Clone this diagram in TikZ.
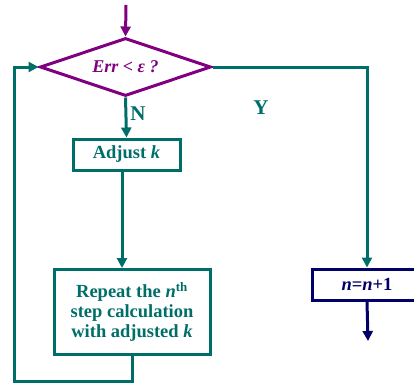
\documentclass[tikz,border=0pt]{standalone}
\usepackage{fontspec}
\setmainfont{Liberation Serif}
\usepackage{tikz}
\usetikzlibrary{shapes.geometric, arrows.meta}
\definecolor{sea}{RGB}{0, 110, 104}
\definecolor{plum}{RGB}{128, 0, 128}
\definecolor{ink}{RGB}{0, 0, 102}

\begin{document}
\begin{tikzpicture}[x=1pt, y=-1pt, line width=3pt,
  tip/.style={-{Triangle[length=10pt, width=10pt]}},
  box/.style={draw, rectangle, inner sep=0pt, align=center,
    font=\fontsize{18.5}{20}\selectfont\bfseries},
  answer/.style={color=sea, font=\fontsize{21}{24}\selectfont\bfseries}]

  \useasboundingbox (0, 0) rectangle (414, 383);
  \clip (0, 0) rectangle (414, 383);

  % decision
  \coordinate (top) at (126, 5);
  \node[diamond, draw=plum, text=plum, inner sep=0pt, aspect=2.9,
    minimum width=171, minimum height=58,
    font=\fontsize{18}{20}\selectfont\bfseries] (err) at (125.5, 67)
    {\itshape Err < ε ?};
  \draw[plum, tip] (top) -- (err.north);

  % N branch
  \node[box, draw=sea, text=sea, minimum width=107, minimum height=31]
    (adjust) at (126.5, 154.5) {Adjust \textit{k}};
  \node[box, draw=sea, text=sea, minimum width=156, minimum height=85]
    (repeat) at (132, 312) {Repeat the \textit{n}\textsuperscript{th}\\
    step calculation\\ with adjusted \textit{k}};

  \draw[sea, tip] (err.south) -- (adjust.north);
  \node[answer] (no) at (138, 114) {N};
  \draw[sea, tip] ([xshift=-4.5pt]adjust.south)
    -- ([xshift=-4.5pt]adjust.south |- repeat.north);

  \coordinate (corner) at (14, 381);
  \draw[sea, tip] (repeat.south) |- (corner) |- (err.west);

  % Y branch
  \node[box, draw=ink, text=ink, minimum width=110, minimum height=31]
    (next) at (367, 284.5) {\textit{n}=\textit{n}+1};
  \node[answer] (yes) at (261, 108) {Y};
  \draw[sea, tip] (err.east) -| (next.north);

  \coordinate (out) at (368, 341);
  \draw[ink, tip] (next.south) -- (out);

\end{tikzpicture}
\end{document}
